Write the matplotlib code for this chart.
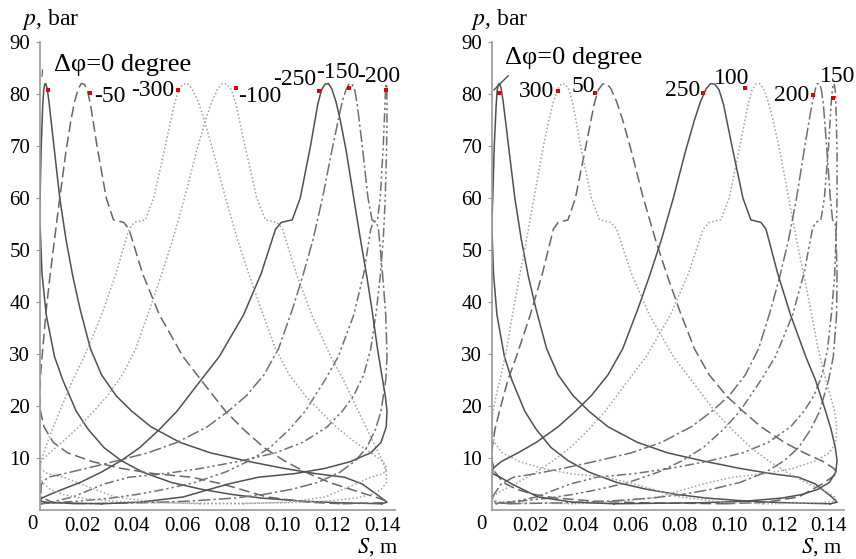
import matplotlib
matplotlib.use("Agg")
import matplotlib.pyplot as plt

plt.rcParams['font.family'] = ['Liberation Serif', 'DejaVu Serif']
plt.rcParams['mathtext.fontset'] = 'stix'

# cylinder pressure, bar (same trace for every curve, read along one loop)
p_trace = [1.2, 1.4, 1.7, 2.3, 3.0, 4.0, 5.3, 7.3, 9.5, 12, 15.5, 19, 25, 29.5, 37.5, 45.5,
           54, 55.3, 55.8, 60, 70, 78, 80.8, 81.9, 82, 81, 78.5, 75, 69, 60, 52, 45, 38.5,
           31, 26, 22, 19, 16, 13, 11, 9.3, 8, 7, 6.3, 5, 2.5, 1.5, 1.2]

# piston position S, m, along the same loop, one list per phase shift (left panel)
s1_0 = [0.1399, 0.1225, 0.1083, 0.0917, 0.0798, 0.0676, 0.0557, 0.0442, 0.0357, 0.0288,
        0.0225, 0.0177, 0.0123, 0.0090, 0.0057, 0.0040, 0.0033, 0.0031, 0.0030, 0.0032,
        0.0037, 0.0043, 0.0047, 0.0051, 0.0055, 0.0061, 0.0068, 0.0076, 0.0090, 0.0111,
        0.0136, 0.0163, 0.0193, 0.0234, 0.0278, 0.0336, 0.0399, 0.0476, 0.0592, 0.0713,
        0.0870, 0.1008, 0.1134, 0.1250, 0.1321, 0.1393, 0.1420, 0.1399]
s1_m50 = [0.1241, 0.1405, 0.1419, 0.1386, 0.1339, 0.1273, 0.1190, 0.1093, 0.1008, 0.0928,
          0.0846, 0.0774, 0.0676, 0.0604, 0.0510, 0.0442, 0.0388, 0.0367, 0.0326, 0.0297,
          0.0260, 0.0234, 0.0221, 0.0209, 0.0197, 0.0185, 0.0170, 0.0156, 0.0136, 0.0111,
          0.0090, 0.0072, 0.0057, 0.0043, 0.0034, 0.0030, 0.0034, 0.0048, 0.0085, 0.0142,
          0.0242, 0.0357, 0.0487, 0.0640, 0.0761, 0.0940, 0.1104, 0.1241]
s1_m100 = [0.0671, 0.1024, 0.1176, 0.1298, 0.1357, 0.1398, 0.1418, 0.1417, 0.1401, 0.1376,
           0.1341, 0.1305, 0.1246, 0.1195, 0.1119, 0.1057, 0.1002, 0.0980, 0.0934, 0.0899,
           0.0852, 0.0816, 0.0798, 0.0779, 0.0761, 0.0743, 0.0719, 0.0694, 0.0658, 0.0610,
           0.0563, 0.0516, 0.0470, 0.0415, 0.0362, 0.0302, 0.0247, 0.0188, 0.0120, 0.0070,
           0.0034, 0.0033, 0.0062, 0.0126, 0.0197, 0.0332, 0.0493, 0.0671]
s1_m150 = [0.0170, 0.0453, 0.0628, 0.0810, 0.0928, 0.1041, 0.1143, 0.1233, 0.1294, 0.1339,
           0.1374, 0.1396, 0.1415, 0.1420, 0.1415, 0.1402, 0.1386, 0.1378, 0.1360, 0.1344,
           0.1321, 0.1301, 0.1291, 0.1280, 0.1269, 0.1257, 0.1241, 0.1225, 0.1199, 0.1162,
           0.1124, 0.1083, 0.1041, 0.0986, 0.0928, 0.0858, 0.0785, 0.0701, 0.0580, 0.0464,
           0.0326, 0.0217, 0.0129, 0.0064, 0.0037, 0.0035, 0.0081, 0.0170]
s1_m200 = [0.0034, 0.0090, 0.0185, 0.0316, 0.0421, 0.0533, 0.0652, 0.0774, 0.0870, 0.0952,
           0.1029, 0.1093, 0.1172, 0.1225, 0.1287, 0.1327, 0.1355, 0.1365, 0.1382, 0.1393,
           0.1405, 0.1412, 0.1414, 0.1416, 0.1418, 0.1419, 0.1420, 0.1420, 0.1418, 0.1413,
           0.1405, 0.1393, 0.1378, 0.1355, 0.1327, 0.1287, 0.1241, 0.1181, 0.1083, 0.0974,
           0.0822, 0.0676, 0.0533, 0.0388, 0.0288, 0.0163, 0.0076, 0.0034]
s1_m250 = [0.0278, 0.0072, 0.0033, 0.0040, 0.0072, 0.0123, 0.0193, 0.0278, 0.0357, 0.0431,
           0.0510, 0.0580, 0.0676, 0.0749, 0.0846, 0.0917, 0.0974, 0.0997, 0.1041, 0.1073,
           0.1114, 0.1143, 0.1158, 0.1172, 0.1186, 0.1199, 0.1216, 0.1233, 0.1257, 0.1287,
           0.1314, 0.1339, 0.1360, 0.1382, 0.1399, 0.1413, 0.1420, 0.1417, 0.1396, 0.1355,
           0.1273, 0.1172, 0.1051, 0.0905, 0.0785, 0.0604, 0.0431, 0.0278]
s1_m300 = [0.0846, 0.0487, 0.0326, 0.0193, 0.0123, 0.0072, 0.0040, 0.0030, 0.0037, 0.0054,
           0.0081, 0.0111, 0.0163, 0.0209, 0.0278, 0.0336, 0.0388, 0.0409, 0.0453, 0.0487,
           0.0533, 0.0569, 0.0587, 0.0604, 0.0622, 0.0640, 0.0665, 0.0689, 0.0725, 0.0774,
           0.0822, 0.0870, 0.0917, 0.0974, 0.1029, 0.1093, 0.1153, 0.1216, 0.1294, 0.1355,
           0.1405, 0.1420, 0.1405, 0.1355, 0.1294, 0.1172, 0.1019, 0.0846]

# right panel
s2_0 = [0.1406, 0.1221, 0.1075, 0.0906, 0.0787, 0.0665, 0.0546, 0.0434, 0.0350, 0.0282,
        0.0222, 0.0176, 0.0124, 0.0094, 0.0064, 0.0050, 0.0044, 0.0043, 0.0044, 0.0047,
        0.0053, 0.0061, 0.0065, 0.0070, 0.0075, 0.0081, 0.0089, 0.0098, 0.0113, 0.0136,
        0.0162, 0.0190, 0.0222, 0.0264, 0.0310, 0.0370, 0.0434, 0.0511, 0.0630, 0.0750,
        0.0906, 0.1042, 0.1166, 0.1278, 0.1346, 0.1412, 0.1433, 0.1406]
s2_50 = [0.0987, 0.0630, 0.0455, 0.0301, 0.0213, 0.0142, 0.0089, 0.0056, 0.0044, 0.0045,
         0.0056, 0.0074, 0.0108, 0.0142, 0.0198, 0.0247, 0.0291, 0.0310, 0.0350, 0.0380,
         0.0422, 0.0455, 0.0472, 0.0489, 0.0506, 0.0523, 0.0546, 0.0570, 0.0605, 0.0653,
         0.0702, 0.0750, 0.0798, 0.0859, 0.0918, 0.0987, 0.1054, 0.1127, 0.1221, 0.1300,
         0.1378, 0.1420, 0.1433, 0.1412, 0.1373, 0.1278, 0.1147, 0.0987]
s2_100 = [0.0370, 0.0124, 0.0061, 0.0043, 0.0058, 0.0094, 0.0149, 0.0222, 0.0291, 0.0359,
          0.0434, 0.0500, 0.0593, 0.0665, 0.0762, 0.0835, 0.0894, 0.0918, 0.0965, 0.0999,
          0.1042, 0.1075, 0.1091, 0.1106, 0.1122, 0.1137, 0.1156, 0.1175, 0.1203, 0.1238,
          0.1270, 0.1300, 0.1327, 0.1357, 0.1382, 0.1406, 0.1423, 0.1432, 0.1428, 0.1402,
          0.1340, 0.1254, 0.1147, 0.1010, 0.0894, 0.0714, 0.0535, 0.0370]
s2_150 = [0.0058, 0.0077, 0.0155, 0.0273, 0.0370, 0.0477, 0.0593, 0.0714, 0.0811, 0.0894,
          0.0976, 0.1042, 0.1127, 0.1185, 0.1254, 0.1300, 0.1334, 0.1346, 0.1368, 0.1382,
          0.1399, 0.1409, 0.1414, 0.1418, 0.1421, 0.1425, 0.1428, 0.1430, 0.1433, 0.1433,
          0.1429, 0.1423, 0.1412, 0.1395, 0.1373, 0.1340, 0.1300, 0.1246, 0.1156, 0.1054,
          0.0906, 0.0762, 0.0617, 0.0466, 0.0359, 0.0222, 0.0119, 0.0058]
s2_200 = [0.0113, 0.0350, 0.0511, 0.0689, 0.0811, 0.0930, 0.1042, 0.1147, 0.1221, 0.1278,
          0.1327, 0.1363, 0.1399, 0.1418, 0.1431, 0.1433, 0.1428, 0.1425, 0.1415, 0.1406,
          0.1391, 0.1378, 0.1370, 0.1363, 0.1354, 0.1346, 0.1334, 0.1321, 0.1300, 0.1270,
          0.1238, 0.1203, 0.1166, 0.1117, 0.1064, 0.0999, 0.0930, 0.0846, 0.0726, 0.0605,
          0.0455, 0.0329, 0.0222, 0.0130, 0.0081, 0.0045, 0.0056, 0.0113]
s2_250 = [0.0535, 0.0894, 0.1064, 0.1212, 0.1293, 0.1357, 0.1402, 0.1428, 0.1433, 0.1426,
          0.1409, 0.1387, 0.1346, 0.1307, 0.1246, 0.1194, 0.1147, 0.1127, 0.1086, 0.1054,
          0.1010, 0.0976, 0.0958, 0.0941, 0.0924, 0.0906, 0.0883, 0.0859, 0.0823, 0.0774,
          0.0726, 0.0678, 0.0630, 0.0570, 0.0511, 0.0444, 0.0380, 0.0310, 0.0222, 0.0149,
          0.0081, 0.0048, 0.0046, 0.0077, 0.0124, 0.0230, 0.0370, 0.0535]
s2_300 = [0.1137, 0.1368, 0.1423, 0.1430, 0.1409, 0.1368, 0.1307, 0.1229, 0.1156, 0.1086,
          0.1010, 0.0941, 0.0846, 0.0774, 0.0678, 0.0605, 0.0546, 0.0523, 0.0477, 0.0444,
          0.0401, 0.0370, 0.0354, 0.0339, 0.0324, 0.0310, 0.0291, 0.0273, 0.0247, 0.0213,
          0.0183, 0.0155, 0.0130, 0.0103, 0.0081, 0.0061, 0.0048, 0.0043, 0.0054, 0.0085,
          0.0155, 0.0247, 0.0359, 0.0500, 0.0617, 0.0798, 0.0976, 0.1137]

# red markers near the peaks
mark1_s = [0.0064, 0.0232, 0.0583, 0.0815, 0.1148, 0.1267, 0.1415]
mark1_p = [80.8, 80.2, 80.8, 81.2, 80.6, 81.2, 80.8]
mark2_s = [0.0072, 0.0310, 0.0459, 0.0893, 0.1062, 0.1336, 0.1417]
mark2_p = [80.2, 80.6, 80.2, 80.2, 81.2, 79.8, 79.2]

# curve labels (text, S, p)
labels1 = [('-50', 0.0312, 79.6), ('-300', 0.0484, 80.6), ('-100', 0.0912, 79.6),
           ('-250', 0.1052, 82.7), ('-150', 0.1224, 84.2), ('-200', 0.1388, 83.3)]
labels2 = [('300', 0.0225, 80.4), ('50', 0.0410, 81.5), ('250', 0.0813, 80.6),
           ('100', 0.1010, 83.0), ('200', 0.1252, 79.8), ('150', 0.1437, 83.3)]

solid = dict(color='#505050', lw=1.1, ls='-')
dashed = dict(color='#666666', lw=1.1, ls=(0, (7, 3)))
dotted = dict(color='#a0a0a0', lw=1.1, ls=(0, (1, 1.5)))
dashdot = dict(color='#707070', lw=1.1, ls=(0, (8, 2, 1.5, 2)))
dashdot2 = dict(color='#707070', lw=1.1, ls=(0, (6, 2, 1.5, 2, 1.5, 2)))

curves1 = [(s1_0, solid), (s1_m50, dashed), (s1_m100, dotted), (s1_m150, dashdot),
           (s1_m200, dashdot2), (s1_m250, solid), (s1_m300, dotted)]
curves2 = [(s2_0, solid), (s2_50, dashed), (s2_100, dotted), (s2_150, dashdot2),
           (s2_200, dashdot), (s2_250, solid), (s2_300, dotted)]

fig = plt.figure(figsize=(8.56, 5.59), dpi=100)
ax1 = fig.add_axes([40/856, 49/559, 355/856, 468/559])
ax2 = fig.add_axes([492/856, 49/559, 352/856, 468/559])

panels = [(ax1, curves1, mark1_s, mark1_p, labels1, (0.0032, 0.1452)),
          (ax2, curves2, mark2_s, mark2_p, labels2, (0.0044, 0.1461))]

for ax, curves, ms, mp, labs, xl in panels:
    for s, st in curves:
        ax.plot(s, p_trace, **st)
    ax.plot(ms, mp, 's', color='#e00000', ms=3.2, mew=0)
    for t, x, y in labs:
        ax.text(x, y, t, fontsize=17, ha='center', va='center')
    ax.set_xlim(*xl)
    ax.set_ylim(0, 90)
    ax.set_xticks([0.02, 0.04, 0.06, 0.08, 0.10, 0.12, 0.14])
    ax.set_xticklabels(['0.02', '0.04', '0.06', '0.08', '0.10', '0.12', '0.14'])
    ax.set_yticks([10, 20, 30, 40, 50, 60, 70, 80, 90])
    ax.tick_params(labelsize=15, length=3, width=0.8, color='#999999', pad=4)
    ax.tick_params(axis='x', length=0, pad=5)
    for side in ['top', 'right']:
        ax.spines[side].set_visible(False)
    for side in ['left', 'bottom']:
        ax.spines[side].set_color('#999999')
        ax.spines[side].set_linewidth(1.2)
    ax.text(0.0, -1.0, '0', fontsize=15, ha='center', va='top', clip_on=False)
    ax.set_facecolor('none')

ax1.text(0.0364, 85.6, 'Δφ=0 degree', fontsize=19, ha='center', va='center')
ax2.text(0.0374, 86.9, 'Δφ=0 degree', fontsize=19, ha='center', va='center')
ax1.plot([0.0040, 0.0042], [83.4, 84.6], color='#505050', lw=0.8)
ax2.plot([0.0052, 0.0109], [80.8, 83.5], color='#505050', lw=1.0)

fig.text(22/856, 1 - 20/559, '$p$, bar', fontsize=17, ha='left', va='center')
fig.text(471/856, 1 - 20/559, '$p$, bar', fontsize=17, ha='left', va='center')
fig.text(398/856, 1 - 558/559, '$S$, m', fontsize=16, ha='right', va='bottom')
fig.text(842/856, 1 - 558/559, '$S$, m', fontsize=16, ha='right', va='bottom')

fig.savefig('out.png', dpi=100)
